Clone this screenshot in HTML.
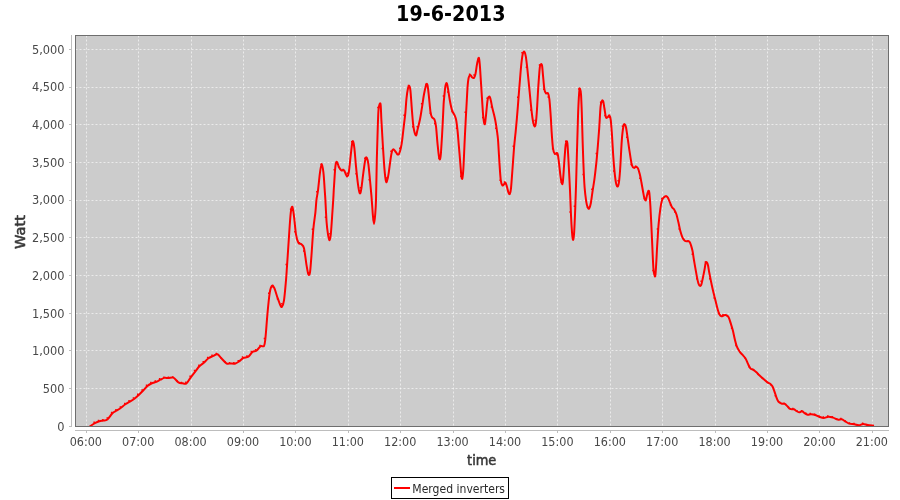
<!DOCTYPE html><html><head><meta charset="utf-8"><title>19-6-2013</title>
<style>html,body{margin:0;padding:0;background:#fff;}svg{display:block}text{font-family:"DejaVu Sans", "Liberation Sans", sans-serif;}.b{font-family:"DejaVu Sans", "Liberation Sans", sans-serif;font-weight:bold;fill:#000}.t{font-size:12px;fill:#484848}.m{fill:#383838;stroke:#383838;stroke-width:0.55px;stroke-linejoin:round}</style></head><body>
<svg width="900" height="500" viewBox="0 0 900 500">
<rect width="900" height="500" fill="#fff"/>
<defs><clipPath id="pc"><rect x="75.5" y="35.5" width="813" height="391"/></clipPath></defs>
<rect x="75" y="35" width="814" height="392" fill="#cccccc"/>
<path d="M86.5 35.5 V426 M138.5 35.5 V426 M191.5 35.5 V426 M243.5 35.5 V426 M295.5 35.5 V426 M348.5 35.5 V426 M400.5 35.5 V426 M453.5 35.5 V426 M505.5 35.5 V426 M557.5 35.5 V426 M610.5 35.5 V426 M662.5 35.5 V426 M715.5 35.5 V426 M767.5 35.5 V426 M819.5 35.5 V426 M872.5 35.5 V426 M75.5 388.5 H888 M75.5 350.5 H888 M75.5 313.5 H888 M75.5 275.5 H888 M75.5 237.5 H888 M75.5 200.5 H888 M75.5 162.5 H888 M75.5 124.5 H888 M75.5 87.5 H888 M75.5 49.5 H888" stroke="#fff" stroke-width="1" stroke-dasharray="2 2" fill="none" opacity="0.6"/>
<path d="M90.0 426.3C90.9 425.7 93.8 423.7 95.4 422.9C97.0 422.1 98.1 421.7 99.4 421.3C100.7 420.9 102.1 420.8 103.4 420.5C104.7 420.2 105.9 420.7 107.4 419.5C108.9 418.3 110.9 414.8 112.4 413.3C113.9 411.8 115.1 411.5 116.4 410.7C117.7 409.9 118.9 409.4 120.4 408.3C121.9 407.2 123.7 405.5 125.4 404.3C127.1 403.1 128.9 402.2 130.4 401.3C131.9 400.4 133.0 399.8 134.4 398.7C135.8 397.6 137.5 396.1 139.0 394.7C140.5 393.3 142.0 391.8 143.4 390.3C144.8 388.8 146.1 387.0 147.4 385.9C148.7 384.8 149.9 384.2 151.4 383.5C152.9 382.8 154.9 382.3 156.4 381.7C157.9 381.1 159.1 380.3 160.4 379.7C161.7 379.1 163.1 378.2 164.4 377.9C165.7 377.6 166.9 378.1 168.4 378.1C169.9 378.1 171.7 377.0 173.4 377.7C175.1 378.4 176.9 381.4 178.4 382.3C179.9 383.2 181.1 383.1 182.4 383.3C183.7 383.5 185.1 384.4 186.4 383.5C187.7 382.6 188.9 379.9 190.4 377.9C191.9 375.9 193.9 373.2 195.4 371.3C196.9 369.4 197.9 367.8 199.4 366.3C200.9 364.8 202.9 363.6 204.4 362.3C205.9 361.0 206.9 359.4 208.4 358.3C209.9 357.2 211.9 356.6 213.4 355.9C214.9 355.2 216.1 353.9 217.4 354.3C218.7 354.7 219.9 356.8 221.4 358.3C222.9 359.8 224.9 362.4 226.4 363.3C227.9 364.2 228.9 363.5 230.4 363.5C231.9 363.5 233.9 363.9 235.4 363.5C236.9 363.1 238.1 362.2 239.4 361.3C240.7 360.4 241.9 358.7 243.4 357.9C244.9 357.1 246.9 357.7 248.4 356.7C249.9 355.7 251.1 352.9 252.4 351.9C253.7 350.9 255.1 351.6 256.4 350.7C257.7 349.8 259.1 347.1 260.4 346.3C261.7 345.5 263.2 347.2 264.0 345.9C264.8 344.6 264.8 343.6 265.4 338.3C266.0 333.0 266.7 322.0 267.4 314.3C268.1 306.6 269.0 297.1 269.8 292.3C270.6 287.5 271.2 286.4 272.0 285.7C272.8 285.0 273.5 286.4 274.4 288.3C275.3 290.2 276.4 294.5 277.4 297.3C278.4 300.1 279.6 303.7 280.4 305.3C281.2 306.9 281.4 307.5 282.0 306.7C282.6 305.9 283.3 304.7 284.0 300.3C284.7 295.9 285.5 286.0 286.0 280.3C286.5 274.6 286.5 273.6 287.0 266.3C287.5 259.0 288.4 245.3 289.0 236.3C289.6 227.3 290.2 217.2 290.8 212.3C291.4 207.4 291.9 206.2 292.4 206.9C292.9 207.6 293.4 211.7 294.0 216.3C294.6 220.9 295.3 229.9 296.0 234.3C296.7 238.7 297.5 241.0 298.4 242.7C299.3 244.4 300.5 243.4 301.4 244.3C302.3 245.2 303.2 245.0 304.0 248.3C304.8 251.6 305.7 260.0 306.4 264.3C307.1 268.6 307.8 273.0 308.4 274.3C309.0 275.6 309.5 275.3 310.0 272.3C310.5 269.3 310.8 263.6 311.4 256.3C312.0 249.0 312.7 235.6 313.4 228.3C314.1 221.0 314.9 217.0 315.4 212.3C315.9 207.6 316.0 204.0 316.4 200.3C316.8 196.6 317.4 195.0 318.0 190.3C318.6 185.6 319.4 176.7 320.0 172.3C320.6 167.9 321.2 163.9 321.8 163.9C322.4 163.9 322.9 168.2 323.4 172.3C323.9 176.4 324.3 183.6 324.6 188.3C324.9 193.0 325.1 194.6 325.4 200.3C325.7 206.0 326.2 216.6 326.6 222.3C327.0 228.0 327.5 231.3 328.0 234.3C328.5 237.3 328.9 240.3 329.4 240.3C329.9 240.3 330.3 239.0 330.8 234.3C331.3 229.6 332.0 218.0 332.4 212.3C332.8 206.6 332.9 204.6 333.2 200.3C333.5 196.0 333.6 192.0 334.0 186.3C334.4 180.6 334.9 170.4 335.4 166.3C335.9 162.2 336.4 161.7 337.0 161.9C337.6 162.1 338.3 165.9 339.0 167.3C339.7 168.7 340.6 169.8 341.4 170.3C342.2 170.8 343.2 169.6 344.0 170.3C344.8 171.0 345.4 173.7 346.0 174.7C346.6 175.7 346.9 176.7 347.4 176.3C347.9 175.9 348.3 175.3 348.8 172.3C349.3 169.3 349.9 163.0 350.4 158.3C350.9 153.6 351.6 147.1 352.0 144.3C352.4 141.5 352.6 140.6 353.0 141.3C353.4 142.0 353.9 144.1 354.4 148.3C354.9 152.5 355.4 160.3 356.0 166.3C356.6 172.3 357.4 179.8 358.0 184.3C358.6 188.8 359.2 192.6 359.8 193.3C360.4 194.0 360.8 191.8 361.4 188.3C362.0 184.8 362.7 177.1 363.4 172.3C364.1 167.5 364.8 161.7 365.4 159.3C366.0 156.9 366.3 157.1 366.8 157.9C367.3 158.7 367.9 160.6 368.4 164.3C368.9 168.0 369.5 175.1 370.0 180.3C370.5 185.5 370.9 189.6 371.4 195.3C371.9 201.0 372.4 209.5 372.8 214.3C373.2 219.1 373.6 223.9 374.0 223.9C374.4 223.9 374.9 218.2 375.2 214.3C375.5 210.4 375.7 209.3 376.0 200.3C376.3 191.3 376.5 172.6 376.8 160.3C377.1 148.0 377.5 134.9 377.8 126.3C378.1 117.7 378.2 112.5 378.6 108.8C379.1 105.1 380.0 102.0 380.5 103.9C381.0 105.8 381.0 113.6 381.4 120.3C381.8 127.0 382.3 136.3 382.8 144.3C383.3 152.3 383.9 162.1 384.4 168.3C384.9 174.5 385.5 179.3 386.0 181.3C386.5 183.3 386.7 181.8 387.2 180.3C387.7 178.8 388.3 175.6 388.8 172.3C389.3 169.0 389.9 163.8 390.4 160.3C390.9 156.8 391.5 153.1 392.0 151.3C392.5 149.5 392.8 149.3 393.4 149.3C394.0 149.3 394.7 150.5 395.4 151.3C396.1 152.1 396.8 153.9 397.4 154.3C398.0 154.7 398.4 154.9 399.0 153.9C399.6 152.9 400.2 150.9 400.8 148.3C401.4 145.7 401.9 142.3 402.4 138.3C402.9 134.3 403.5 128.6 404.0 124.3C404.5 120.0 405.0 116.5 405.4 112.3C405.8 108.1 406.0 103.3 406.4 99.3C406.8 95.3 407.5 90.5 408.0 88.3C408.5 86.1 408.8 85.6 409.2 85.9C409.6 86.2 409.9 86.1 410.4 90.3C410.9 94.5 411.5 105.3 412.0 111.3C412.5 117.3 412.8 122.3 413.4 126.3C414.0 130.3 415.1 134.6 415.8 135.3C416.5 136.0 416.7 133.0 417.4 130.3C418.1 127.6 419.2 123.1 420.0 119.3C420.8 115.5 421.3 111.5 422.0 107.3C422.7 103.1 423.3 98.0 424.0 94.3C424.7 90.6 425.4 86.9 426.0 85.3C426.6 83.7 426.9 83.2 427.4 84.9C427.9 86.6 428.3 90.9 428.8 95.3C429.3 99.7 429.9 107.6 430.4 111.3C430.9 115.0 431.3 116.0 432.0 117.3C432.7 118.6 433.7 117.8 434.4 119.3C435.1 120.8 435.5 122.5 436.0 126.3C436.5 130.1 436.9 137.5 437.4 142.3C437.9 147.1 438.4 152.5 438.8 155.3C439.2 158.1 439.6 159.8 440.0 159.3C440.4 158.8 440.6 158.0 441.0 152.3C441.4 146.6 442.2 133.3 442.6 125.3C443.0 117.3 443.3 109.3 443.6 104.3C443.9 99.3 444.1 98.3 444.4 95.3C444.7 92.3 445.0 88.3 445.4 86.3C445.8 84.3 446.3 82.5 446.8 83.3C447.3 84.1 447.9 88.3 448.4 91.3C448.9 94.3 449.4 98.1 450.0 101.3C450.6 104.5 451.3 108.0 452.0 110.3C452.7 112.6 453.7 113.4 454.4 114.9C455.1 116.4 455.5 116.9 456.0 119.3C456.5 121.7 456.9 125.0 457.4 129.3C457.9 133.6 458.3 139.5 458.8 145.3C459.3 151.1 460.0 159.1 460.4 164.3C460.8 169.5 461.1 174.0 461.4 176.3C461.7 178.6 462.1 179.6 462.4 178.3C462.7 177.0 463.0 174.3 463.4 168.3C463.8 162.3 464.2 150.6 464.6 142.3C465.0 134.0 465.4 125.3 465.8 118.3C466.2 111.3 466.5 105.6 466.8 100.3C467.1 95.0 467.3 90.1 467.6 86.3C467.9 82.5 468.3 79.2 468.8 77.3C469.3 75.4 469.9 74.9 470.4 74.9C470.9 74.9 471.4 76.8 472.0 77.3C472.6 77.8 473.4 78.4 474.0 77.9C474.6 77.4 474.9 76.4 475.4 74.3C475.9 72.2 476.4 67.7 476.8 65.3C477.2 62.9 477.6 60.9 478.0 59.7C478.4 58.5 478.7 57.0 479.0 58.3C479.3 59.6 479.6 62.1 480.0 67.3C480.4 72.5 480.9 82.0 481.4 89.3C481.9 96.6 482.4 105.8 482.8 111.3C483.2 116.8 483.6 120.2 484.0 122.3C484.4 124.4 484.7 124.9 485.0 123.7C485.3 122.5 485.6 119.0 486.0 115.3C486.4 111.6 487.0 104.3 487.4 101.3C487.8 98.3 488.0 98.0 488.4 97.3C488.8 96.6 489.4 96.2 489.8 96.9C490.2 97.6 490.6 99.4 491.0 101.3C491.4 103.2 491.8 105.8 492.4 108.3C493.0 110.8 493.8 113.6 494.4 116.3C495.0 119.0 495.5 121.3 496.0 124.3C496.5 127.3 497.0 131.3 497.4 134.3C497.8 137.3 497.9 137.6 498.2 142.3C498.5 147.0 499.0 156.0 499.4 162.3C499.8 168.6 500.3 176.5 500.8 180.3C501.3 184.1 501.9 184.6 502.4 185.3C502.9 186.0 503.5 184.7 504.0 184.3C504.5 183.9 504.9 182.4 505.4 182.7C505.9 183.0 506.3 184.7 506.8 186.3C507.3 187.9 507.9 191.0 508.4 192.3C508.9 193.6 509.4 194.6 509.8 193.9C510.2 193.2 510.6 192.2 511.0 188.3C511.4 184.4 511.9 177.0 512.4 170.3C512.9 163.6 513.5 154.6 514.0 148.3C514.5 142.0 515.1 137.1 515.6 132.3C516.1 127.5 516.3 124.8 516.8 119.3C517.3 113.8 517.9 106.0 518.4 99.3C518.9 92.6 519.5 85.3 520.0 79.3C520.5 73.3 520.9 67.6 521.4 63.3C521.9 59.0 522.3 55.6 522.8 53.7C523.3 51.8 523.9 51.3 524.4 51.7C524.9 52.1 525.3 53.4 525.8 56.3C526.3 59.2 526.8 63.8 527.4 69.3C528.0 74.8 528.7 82.6 529.4 89.3C530.1 96.0 530.8 104.0 531.4 109.3C532.0 114.6 532.5 118.5 533.0 121.3C533.5 124.1 534.1 126.0 534.6 126.3C535.1 126.6 535.4 126.1 535.8 123.3C536.2 120.5 536.6 115.6 537.0 109.3C537.4 103.0 537.9 92.3 538.4 85.3C538.9 78.3 539.4 70.8 539.8 67.3C540.2 63.8 540.4 64.6 540.8 64.3C541.2 64.0 541.6 63.5 542.0 65.3C542.4 67.1 542.6 71.3 543.0 75.3C543.4 79.3 543.9 86.3 544.4 89.3C544.9 92.3 545.4 92.6 546.0 93.3C546.6 94.0 547.4 92.3 548.0 93.3C548.6 94.3 548.9 95.3 549.4 99.3C549.9 103.3 550.4 111.5 550.8 117.3C551.2 123.1 551.4 129.1 551.8 134.3C552.2 139.5 552.5 145.0 553.0 148.3C553.5 151.6 554.1 153.1 554.8 153.9C555.5 154.7 556.7 152.1 557.4 153.3C558.1 154.5 558.3 157.6 558.8 161.3C559.3 165.0 559.9 171.6 560.4 175.3C560.9 179.0 561.4 182.1 561.8 183.3C562.2 184.5 562.4 185.1 562.8 182.3C563.2 179.5 563.6 172.1 564.0 166.3C564.4 160.5 565.0 151.4 565.4 147.3C565.8 143.2 566.1 142.6 566.4 141.9C566.7 141.2 567.1 140.4 567.4 143.3C567.7 146.2 568.0 151.5 568.4 159.3C568.8 167.1 569.6 181.0 570.0 190.3C570.4 199.6 570.7 208.3 571.0 215.3C571.3 222.3 571.7 228.2 572.0 232.3C572.3 236.4 572.7 239.6 573.0 239.9C573.3 240.2 573.7 237.7 574.0 234.3C574.3 230.9 574.5 225.3 574.8 219.3C575.1 213.3 575.3 206.1 575.6 198.3C575.9 190.5 576.2 180.3 576.4 172.3C576.6 164.3 576.8 157.3 577.0 150.3C577.2 143.3 577.4 137.6 577.6 130.3C577.8 123.0 578.1 113.0 578.4 106.3C578.7 99.6 579.1 93.2 579.4 90.3C579.7 87.4 579.7 88.2 580.0 88.9C580.3 89.6 580.7 90.4 581.0 94.3C581.3 98.2 581.5 104.6 581.8 112.3C582.1 120.0 582.3 131.8 582.6 140.3C582.9 148.8 583.1 155.5 583.4 163.3C583.7 171.1 584.1 181.0 584.6 187.3C585.1 193.6 585.7 197.9 586.2 201.3C586.7 204.7 587.3 206.5 587.8 207.7C588.3 208.9 588.7 209.0 589.2 208.3C589.7 207.6 590.3 206.0 590.8 203.3C591.3 200.6 591.8 196.3 592.4 192.3C593.0 188.3 593.7 184.3 594.4 179.3C595.1 174.3 595.8 167.8 596.4 162.3C597.0 156.8 597.3 152.0 597.8 146.3C598.3 140.6 598.7 135.0 599.2 128.3C599.7 121.6 600.1 110.9 600.6 106.3C601.1 101.7 601.6 101.7 602.0 100.9C602.4 100.1 602.8 100.1 603.2 101.3C603.6 102.5 603.9 105.6 604.4 108.3C604.9 111.0 605.4 115.9 606.0 117.3C606.6 118.7 607.4 117.2 608.0 116.9C608.6 116.6 608.9 114.7 609.4 115.3C609.9 115.9 610.4 117.0 610.8 120.3C611.2 123.6 611.6 129.5 612.0 135.3C612.4 141.1 612.8 149.1 613.2 155.3C613.6 161.5 614.1 167.5 614.6 172.3C615.1 177.1 615.7 181.6 616.2 183.9C616.7 186.2 617.3 186.9 617.8 186.3C618.3 185.7 618.8 183.8 619.2 180.3C619.6 176.8 620.0 172.0 620.4 165.3C620.8 158.6 621.3 146.8 621.8 140.3C622.3 133.8 622.9 129.0 623.4 126.3C623.9 123.6 624.4 124.1 624.8 124.3C625.2 124.5 625.6 125.3 626.0 127.3C626.4 129.3 626.8 132.5 627.4 136.3C628.0 140.1 628.8 146.5 629.4 150.3C630.0 154.1 630.4 156.8 630.8 159.3C631.2 161.8 631.5 163.9 632.0 165.3C632.5 166.7 633.3 167.7 634.0 167.9C634.7 168.1 635.3 166.6 636.0 166.7C636.7 166.8 637.4 167.0 638.0 168.3C638.6 169.6 639.2 172.0 639.8 174.3C640.4 176.6 640.9 179.5 641.4 182.3C641.9 185.1 642.5 188.6 643.0 191.3C643.5 194.0 643.9 196.8 644.4 198.3C644.9 199.8 645.4 200.8 645.8 200.3C646.2 199.8 646.6 196.9 647.0 195.3C647.4 193.7 648.0 191.2 648.4 190.9C648.8 190.6 649.1 190.7 649.4 193.3C649.7 195.9 650.1 200.8 650.4 206.3C650.7 211.8 651.1 219.3 651.4 226.3C651.7 233.3 652.1 241.3 652.4 248.3C652.7 255.3 653.1 263.9 653.4 268.3C653.7 272.7 654.1 273.5 654.4 274.7C654.7 275.9 655.1 277.7 655.4 275.3C655.7 272.9 656.1 265.8 656.4 260.3C656.7 254.8 657.0 248.3 657.4 242.3C657.8 236.3 658.1 230.0 658.6 224.3C659.1 218.6 659.8 212.3 660.4 208.3C661.0 204.3 661.4 202.1 662.0 200.3C662.6 198.5 663.3 198.0 664.0 197.3C664.7 196.6 665.3 196.2 666.0 196.3C666.7 196.4 667.3 196.8 668.0 197.9C668.7 199.0 669.3 201.1 670.0 202.7C670.7 204.3 671.3 206.1 672.0 207.3C672.7 208.5 673.7 208.7 674.4 209.9C675.1 211.1 675.7 212.2 676.4 214.3C677.1 216.4 677.7 219.5 678.4 222.3C679.1 225.1 679.7 228.8 680.4 231.3C681.1 233.8 681.7 235.7 682.4 237.3C683.1 238.9 684.0 240.0 684.8 240.7C685.6 241.4 686.6 241.1 687.4 241.3C688.2 241.5 688.8 241.0 689.4 241.7C690.0 242.4 690.5 243.7 691.0 245.3C691.5 246.9 692.1 248.8 692.6 251.3C693.1 253.8 693.5 257.5 694.0 260.3C694.5 263.1 694.9 265.5 695.4 268.3C695.9 271.1 696.5 274.8 697.0 277.3C697.5 279.8 697.9 281.9 698.4 283.3C698.9 284.7 699.5 285.7 700.0 285.9C700.5 286.1 700.9 285.6 701.4 284.3C701.9 283.0 702.3 280.6 702.8 278.3C703.3 276.0 703.9 272.8 704.4 270.3C704.9 267.8 705.2 264.6 705.6 263.3C706.0 262.0 706.4 262.0 706.8 262.3C707.2 262.6 707.6 263.5 708.0 265.3C708.4 267.1 708.8 270.3 709.4 273.3C710.0 276.3 710.7 280.1 711.4 283.3C712.1 286.5 712.7 289.5 713.4 292.3C714.1 295.1 714.7 297.6 715.4 300.3C716.1 303.0 716.7 306.0 717.4 308.3C718.1 310.6 718.7 313.0 719.4 314.3C720.1 315.6 720.6 316.1 721.4 316.3C722.2 316.5 723.2 315.5 724.0 315.3C724.8 315.1 725.6 315.0 726.4 315.3C727.2 315.6 727.9 316.0 728.6 317.3C729.3 318.6 729.9 320.7 730.6 322.9C731.3 325.1 732.1 327.6 732.8 330.3C733.5 333.0 734.1 336.6 734.8 339.3C735.5 342.0 736.0 344.3 736.8 346.3C737.6 348.3 738.5 349.9 739.4 351.3C740.3 352.7 741.4 353.5 742.4 354.7C743.4 355.9 744.5 356.8 745.4 358.3C746.3 359.8 747.2 362.2 748.0 363.9C748.8 365.6 749.5 367.3 750.4 368.3C751.3 369.3 752.4 369.2 753.4 369.9C754.4 370.6 755.4 371.4 756.4 372.3C757.4 373.2 758.2 374.2 759.4 375.3C760.6 376.4 762.1 377.7 763.4 378.9C764.7 380.1 766.2 381.5 767.4 382.3C768.6 383.1 769.6 383.2 770.4 383.9C771.2 384.6 771.7 385.1 772.4 386.3C773.1 387.5 773.7 389.5 774.4 391.3C775.1 393.1 775.7 395.5 776.4 397.3C777.1 399.1 777.8 400.9 778.6 401.9C779.4 402.9 780.4 403.2 781.4 403.5C782.4 403.8 783.8 403.4 784.8 403.9C785.8 404.4 786.5 405.5 787.4 406.3C788.3 407.1 788.9 408.4 790.0 408.9C791.1 409.4 792.9 408.9 794.0 409.3C795.1 409.7 795.5 410.5 796.4 411.0C797.2 411.5 798.1 412.2 799.1 412.3C800.1 412.4 801.2 411.2 802.1 411.3C803.0 411.4 803.5 412.4 804.4 413.0C805.3 413.6 806.6 414.5 807.7 414.7C808.8 414.9 809.9 414.2 811.1 414.3C812.3 414.4 813.8 414.6 815.1 415.0C816.4 415.4 817.7 416.2 819.1 416.7C820.5 417.2 822.2 418.0 823.7 418.0C825.2 418.0 826.8 416.8 828.4 416.7C830.0 416.6 831.5 417.1 833.1 417.6C834.7 418.1 836.3 419.3 837.7 419.6C839.1 419.9 840.5 419.0 841.7 419.3C842.9 419.6 843.9 420.6 845.1 421.3C846.3 422.0 847.6 423.1 849.1 423.6C850.6 424.1 852.7 424.0 854.4 424.3C856.1 424.6 857.6 425.4 859.1 425.3C860.6 425.2 861.7 423.9 863.1 423.9C864.5 423.8 866.0 424.7 867.7 425.0C869.4 425.3 872.2 425.5 873.1 425.6" stroke="#ff0000" stroke-width="2" fill="none" stroke-linejoin="round" stroke-linecap="round" clip-path="url(#pc)"/>
<path d="M93.4 421.6h1.5v1.5h-1.5zM97.8 419.8h1.5v1.5h-1.5zM102.1 418.9h1.5v1.5h-1.5zM106.5 417.2h1.5v1.5h-1.5zM110.9 411.8h1.5v1.5h-1.5zM115.2 408.9h1.5v1.5h-1.5zM119.6 406.2h1.5v1.5h-1.5zM124.0 402.7h1.5v1.5h-1.5zM128.3 400.1h1.5v1.5h-1.5zM132.7 397.3h1.5v1.5h-1.5zM137.0 393.5h1.5v1.5h-1.5zM141.4 389.2h1.5v1.5h-1.5zM145.8 384.4h1.5v1.5h-1.5zM150.1 381.8h1.5v1.5h-1.5zM154.5 380.3h1.5v1.5h-1.5zM158.9 378.1h1.5v1.5h-1.5zM163.2 376.4h1.5v1.5h-1.5zM167.6 376.5h1.5v1.5h-1.5zM172.0 376.3h1.5v1.5h-1.5zM176.3 380.3h1.5v1.5h-1.5zM180.7 381.7h1.5v1.5h-1.5zM185.1 381.6h1.5v1.5h-1.5zM189.4 375.6h1.5v1.5h-1.5zM193.8 369.8h1.5v1.5h-1.5zM198.2 364.5h1.5v1.5h-1.5zM202.5 361.0h1.5v1.5h-1.5zM206.9 356.7h1.5v1.5h-1.5zM211.3 354.6h1.5v1.5h-1.5zM215.6 352.8h1.5v1.5h-1.5zM220.0 356.9h1.5v1.5h-1.5zM224.4 361.3h1.5v1.5h-1.5zM228.8 361.9h1.5v1.5h-1.5zM233.1 361.9h1.5v1.5h-1.5zM237.5 360.0h1.5v1.5h-1.5zM241.8 356.3h1.5v1.5h-1.5zM246.2 355.3h1.5v1.5h-1.5zM250.6 350.7h1.5v1.5h-1.5zM254.9 349.0h1.5v1.5h-1.5zM259.3 344.7h1.5v1.5h-1.5zM263.7 337.7h1.5v1.5h-1.5zM268.0 292.6h1.5v1.5h-1.5zM272.4 286.3h1.5v1.5h-1.5zM276.8 298.2h1.5v1.5h-1.5zM281.1 302.9h1.5v1.5h-1.5zM285.5 263.8h1.5v1.5h-1.5zM289.9 208.6h1.5v1.5h-1.5zM294.2 230.9h1.5v1.5h-1.5zM298.6 242.1h1.5v1.5h-1.5zM303.0 250.3h1.5v1.5h-1.5zM307.3 272.1h1.5v1.5h-1.5zM311.7 228.6h1.5v1.5h-1.5zM316.1 191.0h1.5v1.5h-1.5zM320.4 163.4h1.5v1.5h-1.5zM324.8 216.5h1.5v1.5h-1.5zM329.2 233.0h1.5v1.5h-1.5zM333.5 169.0h1.5v1.5h-1.5zM337.9 166.3h1.5v1.5h-1.5zM342.3 168.8h1.5v1.5h-1.5zM346.6 172.5h1.5v1.5h-1.5zM351.0 141.1h1.5v1.5h-1.5zM355.4 173.1h1.5v1.5h-1.5zM359.7 187.1h1.5v1.5h-1.5zM364.1 157.5h1.5v1.5h-1.5zM368.5 179.1h1.5v1.5h-1.5zM372.8 219.2h1.5v1.5h-1.5zM377.2 106.8h1.5v1.5h-1.5zM381.6 147.7h1.5v1.5h-1.5zM385.9 177.3h1.5v1.5h-1.5zM390.3 150.5h1.5v1.5h-1.5zM394.7 151.0h1.5v1.5h-1.5zM399.0 147.4h1.5v1.5h-1.5zM403.4 114.5h1.5v1.5h-1.5zM407.8 84.8h1.5v1.5h-1.5zM412.1 125.9h1.5v1.5h-1.5zM416.5 125.9h1.5v1.5h-1.5zM420.9 102.9h1.5v1.5h-1.5zM425.2 83.5h1.5v1.5h-1.5zM429.6 112.6h1.5v1.5h-1.5zM434.0 122.7h1.5v1.5h-1.5zM438.3 157.4h1.5v1.5h-1.5zM442.7 95.3h1.5v1.5h-1.5zM447.1 91.2h1.5v1.5h-1.5zM451.4 110.7h1.5v1.5h-1.5zM455.8 127.5h1.5v1.5h-1.5zM460.2 175.4h1.5v1.5h-1.5zM464.5 111.4h1.5v1.5h-1.5zM468.9 73.5h1.5v1.5h-1.5zM473.3 74.2h1.5v1.5h-1.5zM477.6 58.5h1.5v1.5h-1.5zM482.0 116.8h1.5v1.5h-1.5zM486.4 97.6h1.5v1.5h-1.5zM490.7 106.2h1.5v1.5h-1.5zM495.1 127.5h1.5v1.5h-1.5zM499.5 179.5h1.5v1.5h-1.5zM503.8 181.2h1.5v1.5h-1.5zM508.2 192.3h1.5v1.5h-1.5zM512.6 145.4h1.5v1.5h-1.5zM517.0 96.5h1.5v1.5h-1.5zM521.3 52.1h1.5v1.5h-1.5zM525.7 66.4h1.5v1.5h-1.5zM530.1 109.3h1.5v1.5h-1.5zM534.4 119.8h1.5v1.5h-1.5zM538.8 64.2h1.5v1.5h-1.5zM543.1 88.5h1.5v1.5h-1.5zM547.5 96.3h1.5v1.5h-1.5zM551.9 148.1h1.5v1.5h-1.5zM556.2 154.0h1.5v1.5h-1.5zM560.6 181.4h1.5v1.5h-1.5zM565.0 140.5h1.5v1.5h-1.5zM569.4 211.2h1.5v1.5h-1.5zM573.7 205.5h1.5v1.5h-1.5zM578.1 88.2h1.5v1.5h-1.5zM582.5 173.8h1.5v1.5h-1.5zM586.8 206.4h1.5v1.5h-1.5zM591.2 188.6h1.5v1.5h-1.5zM595.6 152.7h1.5v1.5h-1.5zM599.9 101.4h1.5v1.5h-1.5zM604.3 114.8h1.5v1.5h-1.5zM608.7 116.6h1.5v1.5h-1.5zM613.0 170.3h1.5v1.5h-1.5zM617.4 179.9h1.5v1.5h-1.5zM621.8 125.6h1.5v1.5h-1.5zM626.1 136.6h1.5v1.5h-1.5zM630.5 163.8h1.5v1.5h-1.5zM634.9 165.5h1.5v1.5h-1.5zM639.2 177.6h1.5v1.5h-1.5zM643.6 197.8h1.5v1.5h-1.5zM648.0 193.1h1.5v1.5h-1.5zM652.3 269.7h1.5v1.5h-1.5zM656.7 228.2h1.5v1.5h-1.5zM661.1 197.8h1.5v1.5h-1.5zM665.4 195.5h1.5v1.5h-1.5zM669.8 204.2h1.5v1.5h-1.5zM674.2 211.2h1.5v1.5h-1.5zM678.5 228.2h1.5v1.5h-1.5zM682.9 238.6h1.5v1.5h-1.5zM687.2 240.0h1.5v1.5h-1.5zM691.6 253.4h1.5v1.5h-1.5zM696.0 278.0h1.5v1.5h-1.5zM700.4 280.6h1.5v1.5h-1.5zM704.7 261.2h1.5v1.5h-1.5zM709.1 277.9h1.5v1.5h-1.5zM713.5 297.2h1.5v1.5h-1.5zM717.8 312.7h1.5v1.5h-1.5zM722.2 313.9h1.5v1.5h-1.5zM726.6 315.3h1.5v1.5h-1.5zM730.9 327.6h1.5v1.5h-1.5zM735.3 344.8h1.5v1.5h-1.5zM739.6 351.8h1.5v1.5h-1.5zM744.0 357.1h1.5v1.5h-1.5zM748.4 365.9h1.5v1.5h-1.5zM752.8 369.1h1.5v1.5h-1.5zM757.1 373.0h1.5v1.5h-1.5zM761.5 377.0h1.5v1.5h-1.5zM765.9 380.8h1.5v1.5h-1.5zM770.2 384.0h1.5v1.5h-1.5zM774.6 395.0h1.5v1.5h-1.5zM779.0 401.4h1.5v1.5h-1.5zM783.3 402.4h1.5v1.5h-1.5zM787.7 406.6h1.5v1.5h-1.5zM792.1 407.7h1.5v1.5h-1.5zM796.4 410.2h1.5v1.5h-1.5zM800.8 409.9h1.5v1.5h-1.5zM805.1 412.6h1.5v1.5h-1.5zM809.5 412.8h1.5v1.5h-1.5zM813.9 413.6h1.5v1.5h-1.5zM818.2 415.3h1.5v1.5h-1.5zM822.6 416.3h1.5v1.5h-1.5zM827.0 415.2h1.5v1.5h-1.5zM831.4 416.0h1.5v1.5h-1.5zM835.7 417.9h1.5v1.5h-1.5zM840.1 417.8h1.5v1.5h-1.5zM844.5 420.3h1.5v1.5h-1.5zM848.8 422.2h1.5v1.5h-1.5zM853.2 422.8h1.5v1.5h-1.5zM861.9 422.4h1.5v1.5h-1.5z" fill="#ff0000"/>
<rect x="75.5" y="35.5" width="813" height="391" fill="none" stroke="#6e6e6e" stroke-width="1" shape-rendering="crispEdges"/>
<path d="M71.5 35 V427 M69 426.5 H72 M69 388.5 H72 M69 350.5 H72 M69 313.5 H72 M69 275.5 H72 M69 237.5 H72 M69 200.5 H72 M69 162.5 H72 M69 124.5 H72 M69 87.5 H72 M69 49.5 H72 M75 430.5 H889 M86.5 430 V433 M138.5 430 V433 M191.5 430 V433 M243.5 430 V433 M295.5 430 V433 M348.5 430 V433 M400.5 430 V433 M453.5 430 V433 M505.5 430 V433 M557.5 430 V433 M610.5 430 V433 M662.5 430 V433 M715.5 430 V433 M767.5 430 V433 M819.5 430 V433 M872.5 430 V433" stroke="#bdbdbd" stroke-width="1" fill="none" shape-rendering="crispEdges"/>
<text class="t" transform="translate(64.6 430.5) scale(0.95 1)" text-anchor="end">0</text>
<text class="t" transform="translate(64.6 392.8) scale(0.95 1)" text-anchor="end">500</text>
<text class="t" transform="translate(64.6 355.1) scale(0.95 1)" text-anchor="end">1,000</text>
<text class="t" transform="translate(64.6 317.5) scale(0.95 1)" text-anchor="end">1,500</text>
<text class="t" transform="translate(64.6 279.8) scale(0.95 1)" text-anchor="end">2,000</text>
<text class="t" transform="translate(64.6 242.1) scale(0.95 1)" text-anchor="end">2,500</text>
<text class="t" transform="translate(64.6 204.4) scale(0.95 1)" text-anchor="end">3,000</text>
<text class="t" transform="translate(64.6 166.7) scale(0.95 1)" text-anchor="end">3,500</text>
<text class="t" transform="translate(64.6 129.1) scale(0.95 1)" text-anchor="end">4,000</text>
<text class="t" transform="translate(64.6 91.4) scale(0.95 1)" text-anchor="end">4,500</text>
<text class="t" transform="translate(64.6 53.7) scale(0.95 1)" text-anchor="end">5,000</text>
<text class="t" transform="translate(85.8 446) scale(0.935 1)" text-anchor="middle">06:00</text>
<text class="t" transform="translate(138.2 446) scale(0.935 1)" text-anchor="middle">07:00</text>
<text class="t" transform="translate(190.6 446) scale(0.935 1)" text-anchor="middle">08:00</text>
<text class="t" transform="translate(243.0 446) scale(0.935 1)" text-anchor="middle">09:00</text>
<text class="t" transform="translate(295.4 446) scale(0.935 1)" text-anchor="middle">10:00</text>
<text class="t" transform="translate(347.8 446) scale(0.935 1)" text-anchor="middle">11:00</text>
<text class="t" transform="translate(400.2 446) scale(0.935 1)" text-anchor="middle">12:00</text>
<text class="t" transform="translate(452.6 446) scale(0.935 1)" text-anchor="middle">13:00</text>
<text class="t" transform="translate(505.0 446) scale(0.935 1)" text-anchor="middle">14:00</text>
<text class="t" transform="translate(557.4 446) scale(0.935 1)" text-anchor="middle">15:00</text>
<text class="t" transform="translate(609.8 446) scale(0.935 1)" text-anchor="middle">16:00</text>
<text class="t" transform="translate(662.2 446) scale(0.935 1)" text-anchor="middle">17:00</text>
<text class="t" transform="translate(714.6 446) scale(0.935 1)" text-anchor="middle">18:00</text>
<text class="t" transform="translate(767.0 446) scale(0.935 1)" text-anchor="middle">19:00</text>
<text class="t" transform="translate(819.4 446) scale(0.935 1)" text-anchor="middle">20:00</text>
<text class="t" transform="translate(871.8 446) scale(0.935 1)" text-anchor="middle">21:00</text>
<text class="b" x="396.1" y="21.3" textLength="109.4" lengthAdjust="spacingAndGlyphs" font-size="20.4px">19-6-2013</text>
<text class="m" transform="translate(481.7 464.8) scale(0.925 1)" text-anchor="middle" font-size="14px">time</text>
<text class="m" transform="translate(24.9 232) rotate(-90) scale(1.04 1)" text-anchor="middle" font-size="14px">Watt</text>
<rect x="391.5" y="477.5" width="117" height="21" fill="#fff" stroke="#000" stroke-width="1" shape-rendering="crispEdges"/>
<path d="M394 488 H410" stroke="#ff0000" stroke-width="2" fill="none"/>
<text transform="translate(412.3 492.9) scale(0.905 1)" font-size="12px" style="fill:#2a2a2a">Merged inverters</text>
</svg></body></html>
